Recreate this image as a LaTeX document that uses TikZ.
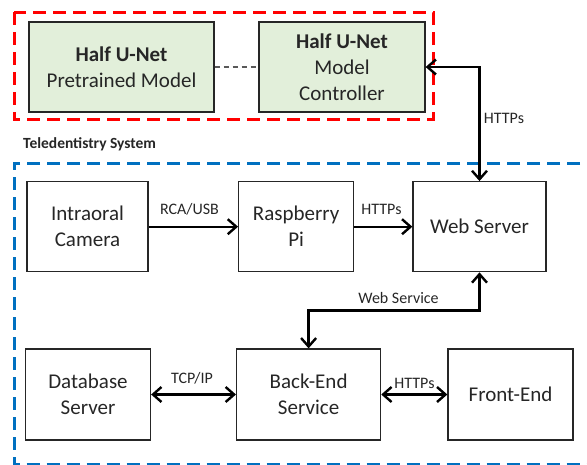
\documentclass[tikz,border=0pt]{standalone}
\usepackage{fontspec}
\setmainfont{Carlito}
\usetikzlibrary{arrows.meta}

\begin{document}
\begin{tikzpicture}[x=1pt,y=-1pt]

% definizione dei colori
\definecolor{rosso}{RGB}{255,0,0}
\definecolor{blu}{RGB}{0,112,192}
\definecolor{verdino}{RGB}{226,239,218}
\definecolor{bordo}{RGB}{38,38,38}

% definizione delle caratteristiche dei nodi
\tikzset{blocco/.style={rectangle, draw=bordo, line width=1.3pt, text=bordo, align=center, inner sep=0pt, font=\fontsize{21}{26}\selectfont}}
\tikzset{modello/.style={blocco, fill=verdino}}
\tikzset{etichetta/.style={text=bordo, inner sep=0pt, font=\fontsize{16}{19}\selectfont}}
% definizione delle frecce
\tikzset{freccia/.style={line width=2.4pt, >={Straight Barb[length=8.5pt,width=15pt]}}}
\tikzset{riquadro/.style={line width=3pt, dash pattern=on 13pt off 7pt}}

\useasboundingbox (0,0) rectangle (587,464);

% riquadri tratteggiati
\draw[riquadro, rosso] (14,12) rectangle (433,119);
\draw[riquadro, blu] (600,163) -- (14,163) -- (14,464.5) -- (600,464.5);

% blocchi del modello
\node[modello, minimum width=185pt, minimum height=90pt] (pretrained) at (121.5,67) {\textbf{Half U-Net}\\Pretrained Model};
\node[modello, minimum width=166pt, minimum height=90pt] (controller) at (342,67) {\textbf{Half U-Net}\\Model\\Controller};

\node[font=\bfseries\fontsize{15.5}{18}\selectfont, text=bordo, anchor=west, inner sep=0pt] (sistema) at (23,144) {Teledentistry System};

% blocchi del sistema
\node[blocco, minimum width=121pt, minimum height=90pt] (camera) at (87.5,226.7) {Intraoral\\Camera};
\node[blocco, minimum width=115pt, minimum height=90pt] (raspberry) at (296.2,226.7) {Raspberry\\Pi};
\node[blocco, minimum width=133pt, minimum height=90pt] (webserver) at (479.5,226.7) {Web Server};

\node[blocco, minimum width=125pt, minimum height=91pt] (database) at (88,394.5) {Database\\Server};
\node[blocco, minimum width=144pt, minimum height=91pt] (backend) at (308.6,394.5) {Back-End\\Service};
\node[blocco, minimum width=125pt, minimum height=91pt] (frontend) at (510.5,394.5) {Front-End};

% etichette dei collegamenti
\node[etichetta] (rcausb) at (189.5,209) {RCA/USB};
\node[etichetta] (httpsrpi) at (381.5,209) {HTTPs};
\node[etichetta] (httpsmodel) at (504,118) {HTTPs};
\node[etichetta] (webservice) at (398.5,298) {Web Service};
\node[etichetta] (tcpip) at (192,378) {TCP/IP};
\node[etichetta] (httpsfront) at (414.5,383) {HTTPs};

% collegamenti
\draw[line width=1.5pt, gray!70!black, dash pattern=on 5pt off 4pt] (pretrained) -- (controller);
\draw[freccia, ->] (camera) -- (raspberry);
\draw[freccia, ->] (raspberry) -- (webserver);
\draw[freccia, <->] (controller.east) -| (webserver.north);
\draw[freccia, <->] (webserver.south) -- ++(0,38) -| (backend.north);
\draw[freccia, <->] (database) -- (backend);
\draw[freccia, <->] (backend) -- (frontend);

\end{tikzpicture}
\end{document}
